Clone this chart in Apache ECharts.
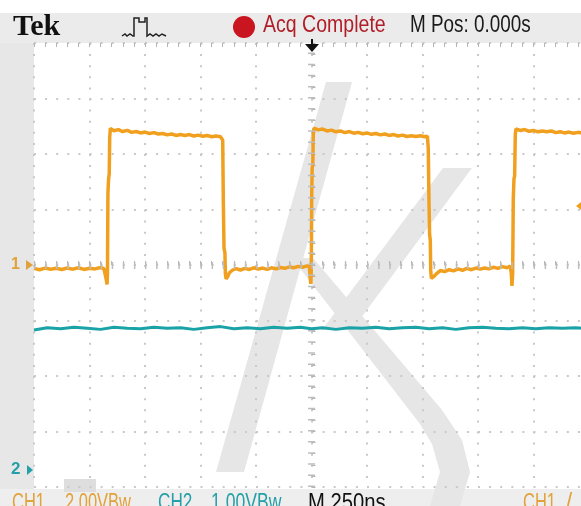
<!DOCTYPE html>
<html><head><meta charset="utf-8">
<script src="https://cdn.jsdelivr.net/npm/echarts@6/dist/echarts.min.js"></script>
<style>html,body{margin:0;padding:0;background:#fff;overflow:hidden;width:581px;height:506px}#c{width:600px;height:506px}</style>
</head><body><div id="c"></div>
<script>
// ---- data (time in ns, volts) ----
const ch1Time = [-1250,-1225,-1200,-1175,-1150,-1125,-1100,-1075,-1050,-1025,-1000,-975,-950,-935,-928,-924,-921,-919,-917,-914,-911,-909,-906,-890,-870,-850,-830,-810,-790,-770,-750,-730,-710,-690,-670,-650,-630,-610,-590,-570,-550,-530,-510,-490,-470,-450,-430,-410,-400,-397,-394,-390,-388,-385,-378,-370,-355,-340,-320,-300,-280,-260,-240,-220,-200,-180,-160,-140,-120,-100,-80,-60,-40,-20,-10,-6,-3,-1,1,3,6,8,11,30,50,70,90,110,130,150,170,190,210,230,250,270,290,310,330,350,370,390,410,430,450,470,490,510,522,526,529,532,535,537,540,550,565,580,600,620,640,660,680,700,720,740,760,780,800,820,840,860,880,895,900,903,906,909,912,915,918,921,940,960,980,1000,1020,1040,1060,1080,1100,1120,1140,1160,1180,1200,1225,1250];
const ch1Volts = [-0.12,-0.17,-0.11,-0.15,-0.12,-0.16,-0.11,-0.15,-0.1,-0.16,-0.12,-0.14,-0.09,-0.13,-0.08,-0.55,-0.7,-0.3,2.6,3.1,3.3,4.6,4.92,4.84,4.88,4.81,4.85,4.78,4.81,4.76,4.79,4.74,4.77,4.72,4.74,4.69,4.72,4.67,4.7,4.67,4.7,4.65,4.68,4.64,4.67,4.62,4.65,4.62,4.5,2.2,0.6,0.45,-0.3,-0.5,-0.42,-0.28,-0.18,-0.13,-0.18,-0.12,-0.16,-0.1,-0.15,-0.11,-0.16,-0.1,-0.14,-0.09,-0.12,-0.07,-0.1,-0.05,-0.08,-0.03,-0.06,-0.45,-0.68,-0.2,2.5,3.5,3.6,4.7,4.93,4.87,4.9,4.83,4.86,4.8,4.83,4.77,4.81,4.75,4.78,4.73,4.76,4.71,4.74,4.69,4.72,4.67,4.7,4.65,4.68,4.63,4.66,4.63,4.66,4.62,4.64,4.2,2.4,1.1,0.9,-0.2,-0.48,-0.42,-0.3,-0.2,-0.24,-0.17,-0.21,-0.14,-0.19,-0.12,-0.17,-0.11,-0.15,-0.11,-0.14,-0.08,-0.12,-0.06,-0.1,-0.04,-0.3,-0.75,-0.35,2.4,3.1,3.2,4.7,4.9,4.85,4.88,4.82,4.85,4.8,4.83,4.8,4.83,4.77,4.8,4.76,4.79,4.75,4.78,4.75,4.76];
const ch2Time = [-1250,-1190,-1130,-1070,-1010,-950,-890,-830,-770,-710,-650,-590,-530,-470,-410,-350,-290,-230,-170,-110,-50,0,50,110,170,230,290,350,410,470,530,590,650,710,770,830,890,950,1010,1070,1130,1190,1250];
const ch2Volts = [2.53,2.57,2.55,2.58,2.56,2.54,2.58,2.56,2.55,2.58,2.56,2.57,2.54,2.57,2.59,2.55,2.57,2.55,2.58,2.56,2.58,2.55,2.57,2.54,2.57,2.56,2.58,2.55,2.57,2.58,2.55,2.57,2.54,2.57,2.58,2.56,2.55,2.57,2.55,2.57,2.56,2.57,2.55];
const ch1VoltsPerDiv = 2.0, ch1OffsetDiv = 0;
const ch2VoltsPerDiv = 1.0, ch2OffsetDiv = -3.7;
const timePerDivNs = 250;

const ch1Data = ch1Time.map((t,i)=>[t, ch1Volts[i]/ch1VoltsPerDiv + ch1OffsetDiv]);
const ch2Data = ch2Time.map((t,i)=>[t, ch2Volts[i]/ch2VoltsPerDiv + ch2OffsetDiv]);

const gridCol = '#c9c9c9';
const dotted = {color: gridCol, width: 2, type: [2, 9.1]};
const Y = '#f0a01e', YT = '#e2a23a', C = '#1aa3a6', CT = '#26a0a8';
const F = 'Liberation Sans, Arial, sans-serif';

function txt(x,y,s,fill,size,sx,opts){
  return {type:'text', x:x, y:y, scaleX:sx||1, scaleY:(opts&&opts.sy)||1, z:100,
    style:{text:s, fill:fill, font:(opts&&opts.bold?'bold ':'')+size+'px '+((opts&&opts.family)||F), verticalAlign:'middle', align:'left'}};
}

const chart = echarts.init(document.getElementById('c'), null, {renderer:'canvas'});
chart.setOption({
  backgroundColor:'#ffffff',
  animation:false,
  grid:{left:34, top:43, right:11, bottom:19, show:false},
  xAxis:[
    {type:'value', min:-5*timePerDivNs, max:5*timePerDivNs, interval:timePerDivNs, position:'bottom',
     axisLine:{show:false}, axisLabel:{show:false},
     axisTick:{show:true, inside:true, length:4, lineStyle:{color:'#b5b5b5'}},
     minorTick:{show:true, splitNumber:5, length:4, lineStyle:{color:'#b5b5b5'}},
     splitLine:{show:true, lineStyle:dotted}},
    {type:'value', min:-5*timePerDivNs, max:5*timePerDivNs, interval:timePerDivNs, position:'top',
     axisLine:{show:false}, axisLabel:{show:false},
     axisTick:{show:true, inside:true, length:4, lineStyle:{color:'#b5b5b5'}},
     minorTick:{show:true, splitNumber:5, length:4, lineStyle:{color:'#b5b5b5'}},
     splitLine:{show:false}}
  ],
  yAxis:[
    {type:'value', min:-4, max:4, interval:1, position:'left',
     axisLine:{show:false}, axisLabel:{show:false},
     axisTick:{show:true, inside:true, length:4, lineStyle:{color:'#b5b5b5'}},
     minorTick:{show:true, splitNumber:5, length:4, lineStyle:{color:'#b5b5b5'}},
     splitLine:{show:true, lineStyle:dotted}}
  ],
  series:[
    {type:'line', data:[], z:1, silent:true,
     markLine:{silent:true, symbol:'none', label:{show:false}, animation:false,
       lineStyle:{color:'#bdbdbd', width:7, type:[1.5, 9.6]},
       data:[{xAxis:0},{yAxis:0}]}},
    {name:'CH2', type:'line', data:ch2Data, showSymbol:false, z:3,
     lineStyle:{color:C, width:3}, itemStyle:{color:C}},
    {name:'CH1', type:'line', data:ch1Data, showSymbol:false, z:4,
     lineStyle:{color:Y, width:3.5}, itemStyle:{color:Y}}
  ],
  graphic:[
    // frame areas
    {type:'rect', z:-100, shape:{x:0,y:13,width:600,height:30}, style:{fill:'#ebebeb'}},
    {type:'rect', z:-100, shape:{x:0,y:43,width:34,height:446}, style:{fill:'#e7e7e7'}},
    {type:'rect', z:-100, shape:{x:0,y:489,width:600,height:17}, style:{fill:'#eeeeee'}},
    {type:'rect', z:-90, shape:{x:64,y:479,width:32,height:13}, style:{fill:'#dedede'}},
    // watermark
    {type:'polygon', z:-50, shape:{points:[[326,82],[352,82],[244,472],[216,472]]}, style:{fill:'#e6e6e6'}},
    {type:'polygon', z:-50, shape:{points:[[443,168],[472,168],[352,330],[322,330]]}, style:{fill:'#e6e6e6'}},
    {type:'polygon', z:-50, shape:{points:[[292,258],[313,258],[442,410],[462,440],[470,472],[460,506],[430,506],[440,472],[432,444],[420,424]]}, style:{fill:'#e6e6e6'}},
    // header
    txt(13,27,'Tek','#111',30,1,{bold:true,family:'Liberation Serif, Times New Roman, serif'}),
    {type:'polyline', z:100, shape:{points:[[122,36],[125,34],[127,36],[130,34],[133,36],[134,36],[134,18],[139,18],[139,22],[145,22],[145,18],[147,18],[147,36],[150,34],[153,36],[156,34],[159,36],[162,34],[166,36]]}, style:{stroke:'#222', lineWidth:1.5, fill:null}},
    {type:'circle', z:100, shape:{cx:244,cy:27,r:11}, style:{fill:'#c8151f'}},
    txt(263,26,'Acq Complete','#b01e28',21,0.93,{sy:1.1}),
    txt(410,26,'M Pos: 0.000s','#1a1a1a',21,0.9,{sy:1.1}),
    // trigger position arrow
    {type:'line', z:100, shape:{x1:312,y1:39,x2:312,y2:47}, style:{stroke:'#111', lineWidth:2}},
    {type:'polygon', z:100, shape:{points:[[305,44],[319,44],[312,52]]}, style:{fill:'#111'}},
    // channel ground markers
    txt(11,265,'1',YT,16,1,{bold:true}),
    {type:'polygon', z:100, shape:{points:[[26,260],[33,265],[26,270]]}, style:{fill:YT}},
    txt(11,469,'2',CT,17,1,{bold:true}),
    {type:'polygon', z:100, shape:{points:[[27,465],[33,470],[27,475]]}, style:{fill:CT}},
    // trigger level marker (right edge)
    {type:'polygon', z:100, shape:{points:[[576,206],[585,199],[585,213]]}, style:{fill:Y}},
    // footer
    txt(12,504,'CH1',YT,22,0.75,{sy:1.05}),
    txt(65,504,'2.00VBw',YT,22,0.75,{sy:1.05}),
    txt(158,504,'CH2',CT,22,0.78,{sy:1.05}),
    txt(211,504,'1.00VBw',CT,22,0.8,{sy:1.05}),
    txt(308,504,'M 250ns','#111',22,0.92,{sy:1.05}),
    txt(523,504,'CH1',YT,22,0.75,{sy:1.05}),
    txt(566,504,'/',YT,22,1.0,{sy:1.05})
  ]
});
</script></body></html>
